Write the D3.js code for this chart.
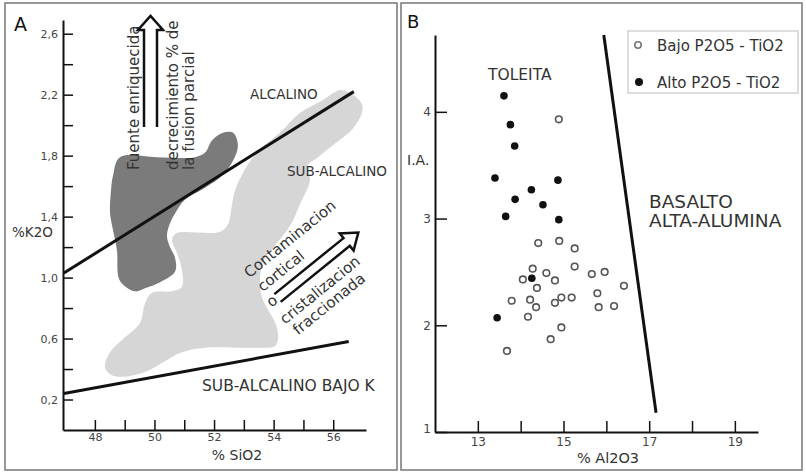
<!DOCTYPE html>
<html>
<head>
<meta charset="utf-8">
<script src="https://cdnjs.cloudflare.com/ajax/libs/d3/7.8.5/d3.min.js"></script>
<style>
  body { margin: 0; background: #fff; }
  svg { display: block; font-family: "DejaVu Sans", sans-serif; }
  .axis path, .axis line { stroke: #111; }
  .axis text { fill: #444; font-family: "DejaVu Sans", sans-serif; }
</style>
</head>
<body>
<div id="chart"></div>
<script>
// ---- Panel A data (% SiO2 vs % K2O) ----
const siO2Ticks = [48, 49, 50, 51, 52, 53, 54, 55, 56];
const siO2Labels = [48, 50, 52, 54, 56];
const k2oTicks = [0.2, 0.4, 0.6, 0.8, 1.0, 1.2, 1.4, 1.6, 1.8, 2.0, 2.2, 2.4, 2.6];
const k2oLabels = [0.2, 0.6, 1.0, 1.4, 1.8, 2.2, 2.6];

const alkalineLine = [[46.96, 1.03], [56.69, 2.22]];
const lowKLine = [[46.96, 0.24], [56.52, 0.58]];

// dark field (enriched source)
const darkField = [
  [48.84, 1.79], [50.08, 1.79], [51.36, 1.79], [51.70, 1.82], [51.93, 1.90], [52.30, 1.95],
  [52.64, 1.95], [52.80, 1.87], [52.67, 1.78], [52.27, 1.67], [51.70, 1.59], [51.02, 1.51],
  [50.69, 1.42], [50.49, 1.34], [50.42, 1.27], [50.52, 1.20], [50.69, 1.13], [50.69, 1.04],
  [50.19, 0.97], [49.68, 0.93], [49.35, 0.91], [48.84, 0.98], [48.74, 1.18], [48.61, 1.31],
  [48.51, 1.42], [48.54, 1.57], [48.61, 1.67]
];

// light field (main trend)
const lightField = [
  [56.23, 2.23], [56.66, 2.20], [56.96, 2.14], [56.96, 2.08], [56.63, 1.97], [56.06, 1.88],
  [55.49, 1.79], [55.12, 1.73], [55.22, 1.64], [54.88, 1.48], [54.55, 1.34], [54.04, 1.21],
  [53.64, 1.10], [53.54, 0.98], [53.61, 0.87], [53.81, 0.79], [54.08, 0.69], [54.15, 0.60],
  [54.04, 0.55], [53.37, 0.54], [52.70, 0.54], [51.70, 0.54], [50.92, 0.51], [50.25, 0.44],
  [49.68, 0.38], [49.01, 0.35], [48.57, 0.36], [48.34, 0.41], [48.51, 0.51], [48.91, 0.59],
  [49.51, 0.70], [49.68, 0.83], [49.92, 0.90], [50.59, 0.91], [50.92, 0.94], [50.92, 1.05],
  [50.76, 1.16], [50.59, 1.25], [50.72, 1.29], [52.20, 1.30], [52.47, 1.35], [52.57, 1.44],
  [52.70, 1.57], [53.10, 1.73], [53.54, 1.84], [54.21, 1.95], [54.88, 2.08], [55.62, 2.16]
];

// ---- Panel B data (% Al2O3 vs I.A.) ----
const al2o3Ticks = [13, 14, 15, 16, 17, 18, 19];
const al2o3Labels = [13, 15, 17, 19];
const iaTicks = [1, 2, 3, 4];
const basaltLine = [[15.94, 4.72], [17.16, 1.18]];

const lowP = [
  [14.89, 3.93], [14.41, 2.77], [14.90, 2.79], [15.26, 2.72], [14.28, 2.53], [14.60, 2.49],
  [15.26, 2.55], [15.66, 2.48], [15.96, 2.50], [14.05, 2.43], [14.80, 2.42], [14.38, 2.35],
  [16.41, 2.37], [13.79, 2.23], [14.22, 2.24], [14.95, 2.26], [15.19, 2.26], [15.79, 2.30],
  [14.80, 2.21], [14.36, 2.17], [15.82, 2.17], [16.18, 2.18], [14.17, 2.08], [14.95, 1.98],
  [14.70, 1.87], [13.68, 1.76]
];
const highP = [
  [13.61, 4.15], [13.76, 3.88], [13.86, 3.68], [13.40, 3.38], [14.87, 3.36], [14.25, 3.27],
  [13.87, 3.18], [14.52, 3.13], [13.65, 3.02], [14.89, 2.99], [14.26, 2.44], [13.45, 2.07]
];

const width = 806, height = 473;
const svg = d3.select("#chart").append("svg")
  .attr("width", width)
  .attr("height", height);

// panel frames
svg.append("rect").attr("x", 5).attr("y", 3).attr("width", 392).attr("height", 467)
  .attr("fill", "none").attr("stroke", "#777").attr("stroke-width", 1.5);
svg.append("rect").attr("x", 401).attr("y", 3).attr("width", 401).attr("height", 467)
  .attr("fill", "none").attr("stroke", "#777").attr("stroke-width", 1.5);

const comma = d => d.toFixed(1).replace(".", ",");

// ================= Panel A =================
const xA = d3.scaleLinear().domain([46.93, 57.1]).range([63, 366]);
const yA = d3.scaleLinear().domain([0, 2.69]).range([430, 20]);

const blob = d3.line().x(d => xA(d[0])).y(d => yA(d[1])).curve(d3.curveCatmullRomClosed.alpha(0.5));

svg.append("path").attr("d", blob(lightField)).attr("fill", "#d6d6d6");
svg.append("path").attr("d", blob(darkField)).attr("fill", "#7b7b7b");

const seg = d3.line().x(d => xA(d[0])).y(d => yA(d[1]));
svg.append("path").attr("d", seg(alkalineLine)).attr("stroke", "#111").attr("stroke-width", 3).attr("fill", "none");
svg.append("path").attr("d", seg(lowKLine)).attr("stroke", "#111").attr("stroke-width", 3).attr("fill", "none");

const axA_x = svg.append("g").attr("class", "axis").attr("transform", "translate(0,430)")
  .call(d3.axisBottom(xA).tickValues(siO2Ticks).tickSize(-10).tickSizeOuter(0).tickPadding(3)
    .tickFormat(d => siO2Labels.includes(d) ? d : ""));
const axA_y = svg.append("g").attr("class", "axis").attr("transform", "translate(63,0)")
  .call(d3.axisLeft(yA).tickValues(k2oTicks).tickSize(-10).tickSizeOuter(0).tickPadding(5)
    .tickFormat(d => k2oLabels.includes(d) ? comma(d) : ""));
[axA_x, axA_y].forEach(g => {
  g.select(".domain").attr("stroke-width", 2);
  g.selectAll(".tick line").attr("stroke-width", 1.5);
  g.selectAll("text").attr("font-size", 11);
});

// labels panel A
const txt = (x, y, s, size, opts = {}) => {
  const t = svg.append("text").attr("x", x).attr("y", y).text(s)
    .attr("font-size", size).attr("fill", opts.fill || "#333");
  if (opts.anchor) t.attr("text-anchor", opts.anchor);
  if (opts.rotate !== undefined) t.attr("transform", `rotate(${opts.rotate},${x},${y})`);
  if (opts.baseline) t.attr("dominant-baseline", opts.baseline);
  return t;
};

txt(14, 31, "A", 19, { fill: "#111" });
txt(12, 237, "%K2O", 13.5);
txt(237, 460, "% SiO2", 14, { anchor: "middle" });
txt(250, 99, "ALCALINO", 13.5);
txt(287, 176, "SUB-ALCALINO", 13.5);
txt(202, 391, "SUB-ALCALINO BAJO K", 15.5);

// vertical arrow + text
txt(139, 170, "Fuente enriquecida", 15, { rotate: -90 });
txt(178, 170, "decrecimiento % de", 15, { rotate: -90 });
txt(194, 170, "la fusion parcial", 15, { rotate: -90 });

const arrow = (len, half, headLen, headHalf) =>
  `M0,${-half} L${len - headLen},${-half} L${len - headLen},${-headHalf} L${len},0 ` +
  `L${len - headLen},${headHalf} L${len - headLen},${half} L0,${half}`;

svg.append("path").attr("d", arrow(111, 6.5, 14, 12.5))
  .attr("transform", "translate(150.5,127) rotate(-90)")
  .attr("fill", "none").attr("stroke", "#111").attr("stroke-width", 2.5);

// diagonal arrow + text
svg.append("path").attr("d", arrow(104, 5, 15, 11))
  .attr("transform", "translate(277.5,298) rotate(-39)")
  .attr("fill", "none").attr("stroke", "#111").attr("stroke-width", 2.5);

txt(290, 239, "Contaminacion", 15, { anchor: "middle", rotate: -39, baseline: "central" });
txt(281, 271, "cortical", 15, { anchor: "middle", rotate: -39, baseline: "central" });
txt(272, 301, "o", 15, { anchor: "middle", rotate: -39, baseline: "central" });
txt(320, 290, "cristalizacion", 15, { anchor: "middle", rotate: -39, baseline: "central" });
txt(329, 304, "fraccionada", 15, { anchor: "middle", rotate: -39, baseline: "central" });

// ================= Panel B =================
const xB = d3.scaleLinear().domain([12, 19.54]).range([435, 758]);
const yB = d3.scaleLinear().domain([1, 4.72]).range([432, 35]);

const segB = d3.line().x(d => xB(d[0])).y(d => yB(d[1]));
svg.append("path").attr("d", segB(basaltLine)).attr("stroke", "#111").attr("stroke-width", 3).attr("fill", "none");

const axB_x = svg.append("g").attr("class", "axis").attr("transform", "translate(0,432)")
  .call(d3.axisBottom(xB).tickValues(al2o3Ticks).tickSize(-11).tickSizeOuter(0).tickPadding(5)
    .tickFormat(d => al2o3Labels.includes(d) ? d : ""));
const axB_y = svg.append("g").attr("class", "axis").attr("transform", "translate(435,0)")
  .call(d3.axisLeft(yB).tickValues(iaTicks).tickSize(-12).tickSizeOuter(0).tickPadding(4)
    .tickFormat(d3.format("d")));
[axB_x, axB_y].forEach(g => {
  g.select(".domain").attr("stroke-width", 2);
  g.selectAll(".tick line").attr("stroke-width", 1.5);
  g.selectAll("text").attr("font-size", 12);
});
// the "1" label sits just above the corner
axB_y.selectAll(".tick text").filter(d => d === 1).attr("dy", "0.05em");

svg.selectAll("circle.low").data(lowP).enter().append("circle")
  .attr("class", "low")
  .attr("cx", d => xB(d[0])).attr("cy", d => yB(d[1])).attr("r", 3.3)
  .attr("fill", "#fff").attr("stroke", "#555").attr("stroke-width", 1.6);

svg.selectAll("circle.high").data(highP).enter().append("circle")
  .attr("class", "high")
  .attr("cx", d => xB(d[0])).attr("cy", d => yB(d[1])).attr("r", 3.8)
  .attr("fill", "#111");

txt(407, 28, "B", 18, { fill: "#111" });
txt(407, 165, "I.A.", 14);
txt(608, 463, "% Al2O3", 14.5, { anchor: "middle" });
txt(488, 80, "TOLEITA", 15.5);
txt(649, 208, "BASALTO", 18.5);
txt(649, 227, "ALTA-ALUMINA", 18.5);

// legend
svg.append("rect").attr("x", 628).attr("y", 31).attr("width", 170).attr("height", 62)
  .attr("fill", "#fff").attr("stroke", "#bbb").attr("stroke-width", 1);
svg.append("circle").attr("cx", 638).attr("cy", 45).attr("r", 3.2)
  .attr("fill", "#fff").attr("stroke", "#777").attr("stroke-width", 1.6);
svg.append("circle").attr("cx", 639).attr("cy", 82).attr("r", 4).attr("fill", "#111");
txt(657, 51, "Bajo P2O5 - TiO2", 15);
txt(657, 88, "Alto P2O5 - TiO2", 15);
</script>
</body>
</html>
